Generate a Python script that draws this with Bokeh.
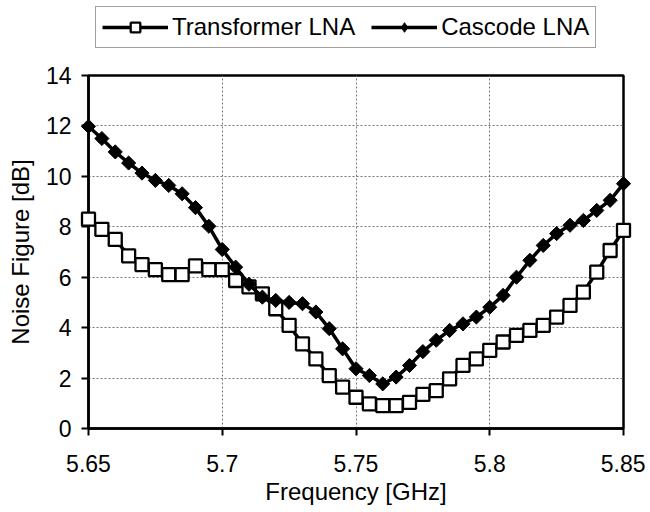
import math
from bokeh.plotting import figure
from bokeh.layouts import column
from bokeh.models import Range1d, Legend, LegendItem, FixedTicker
from bokeh.embed import file_html
from bokeh.resources import INLINE

freq = [5.650, 5.655, 5.660, 5.665, 5.670, 5.675, 5.680, 5.685, 5.690, 5.695,
        5.700, 5.705, 5.710, 5.715, 5.720, 5.725, 5.730, 5.735, 5.740, 5.745,
        5.750, 5.755, 5.760, 5.765, 5.770, 5.775, 5.780, 5.785, 5.790, 5.795,
        5.800, 5.805, 5.810, 5.815, 5.820, 5.825, 5.830, 5.835, 5.840, 5.845,
        5.850]
transformer_nf = [8.3, 7.9, 7.5, 6.85, 6.5, 6.3, 6.1, 6.1, 6.45, 6.3,
                  6.3, 5.87, 5.62, 5.34, 4.75, 4.09, 3.36, 2.76, 2.1, 1.64,
                  1.24, 0.98, 0.91, 0.91, 1.04, 1.35, 1.5, 1.97, 2.5, 2.76,
                  3.1, 3.43, 3.69, 3.89, 4.09, 4.42, 4.88, 5.41, 6.2, 7.06,
                  7.86]
cascode_nf = [11.98, 11.5, 10.97, 10.53, 10.13, 9.84, 9.64, 9.31, 8.76, 8.02,
              7.1, 6.4, 5.72, 5.21, 5.08, 5.0, 4.95, 4.62, 3.96, 3.16,
              2.37, 2.1, 1.77, 2.04, 2.5, 3.05, 3.5, 3.89, 4.15, 4.42,
              4.81, 5.28, 6.0, 6.67, 7.26, 7.73, 8.06, 8.25, 8.65, 9.05,
              9.71]
x_ticks = [5.65, 5.70, 5.75, 5.80, 5.85]
x_tick_labels = ["5.65", "5.7", "5.75", "5.8", "5.85"]
y_ticks = [0, 2, 4, 6, 8, 10, 12, 14]
series_names = ["Transformer LNA", "Cascode LNA"]

FONT = "Liberation Sans"
LINE_W = 3.5
SQ = dict(marker="square", size=13, fill_color="white", line_color="black", line_width=2.3)
DM = dict(marker="square", angle=math.pi / 4, size=10, fill_color="black",
          line_color="black", line_width=1)
DM_LEG = dict(marker="diamond", size=17, fill_color="black",
              line_color="black", line_width=1)

# ---- main plot ----
p = figure(width=645, height=463, output_backend="svg", toolbar_location=None,
           x_range=Range1d(5.65, 5.85), y_range=Range1d(0, 14),
           min_border_left=88, min_border_right=22, min_border_top=26,
           min_border_bottom=84)
p.background_fill_color = "white"
p.border_fill_color = "white"
p.outline_line_color = "black"
p.outline_line_width = 2.5

l1 = p.line(freq, transformer_nf, line_color="black", line_width=LINE_W)
s1 = p.scatter(freq, transformer_nf, **SQ)
l2 = p.line(freq, cascode_nf, line_color="black", line_width=LINE_W)
s2 = p.scatter(freq, cascode_nf, **DM)
for r in (l1, s1, l2, s2):
    r.level = "overlay"

p.xaxis.ticker = FixedTicker(ticks=x_ticks)
p.xaxis.major_label_overrides = {t: s for t, s in zip(x_ticks, x_tick_labels)}
p.yaxis.ticker = FixedTicker(ticks=y_ticks)

for ax in (p.xaxis[0], p.yaxis[0]):
    ax.axis_line_color = "black"
    ax.axis_line_width = 2.5
    ax.major_tick_line_color = "black"
    ax.major_tick_line_width = 2
    ax.major_tick_in = 0
    ax.major_tick_out = 7
    ax.minor_tick_line_color = None
    ax.major_label_text_font = FONT
    ax.major_label_text_font_size = "23px"
    ax.major_label_text_color = "black"
    ax.axis_label_text_font = FONT
    ax.axis_label_text_font_size = "24px"
    ax.axis_label_text_font_style = "normal"
    ax.axis_label_text_color = "black"

p.xaxis.axis_label = "Frequency [GHz]"
p.yaxis.axis_label = "Noise Figure [dB]"
p.xaxis.major_label_standoff = 19
p.yaxis.major_label_standoff = 10
p.xaxis.axis_label_standoff = 3
p.yaxis.axis_label_standoff = 9

p.xgrid.ticker = FixedTicker(ticks=x_ticks)
p.ygrid.ticker = FixedTicker(ticks=y_ticks)
for g in (p.xgrid[0], p.ygrid[0]):
    g.grid_line_color = "#777777"
    g.grid_line_width = 1
    g.grid_line_dash = "2 2"

# ---- legend strip above the plot (its frame is aligned with the plot's) ----
lg = figure(width=645, height=49, output_backend="svg", toolbar_location=None,
            x_range=Range1d(0, 1), y_range=Range1d(0, 1),
            x_axis_type=None, y_axis_type=None,
            min_border_left=0, min_border_right=0, min_border_top=0,
            min_border_bottom=0)
lg.grid.visible = False
lg.outline_line_color = None
lg.background_fill_color = "white"
lg.border_fill_color = "white"
hidden_x = [-10, -9]
hidden_y = [-10, -9]
g1 = lg.line(hidden_x, hidden_y, line_color="black", line_width=LINE_W)
g2 = lg.scatter(hidden_x, hidden_y, **SQ)
g3 = lg.line(hidden_x, hidden_y, line_color="black", line_width=LINE_W)
g4 = lg.scatter(hidden_x, hidden_y, **DM_LEG)

legend = Legend(items=[LegendItem(label=series_names[0], renderers=[g1, g2]),
                       LegendItem(label=series_names[1], renderers=[g3, g4])],
                orientation="horizontal", location=(7, 1))
legend.label_text_font = FONT
legend.label_text_font_size = "24px"
legend.label_text_color = "black"
legend.glyph_width = 66
legend.glyph_height = 24
legend.label_standoff = 4
legend.spacing = 16
legend.padding = 6
legend.margin = 0
legend.border_line_color = "#444444"
legend.border_line_width = 1.5
legend.background_fill_color = "white"
legend.background_fill_alpha = 1
lg.add_layout(legend, "center")

layout = column(lg, p, spacing=0)
open("out.html", "w").write(file_html(layout, INLINE))
